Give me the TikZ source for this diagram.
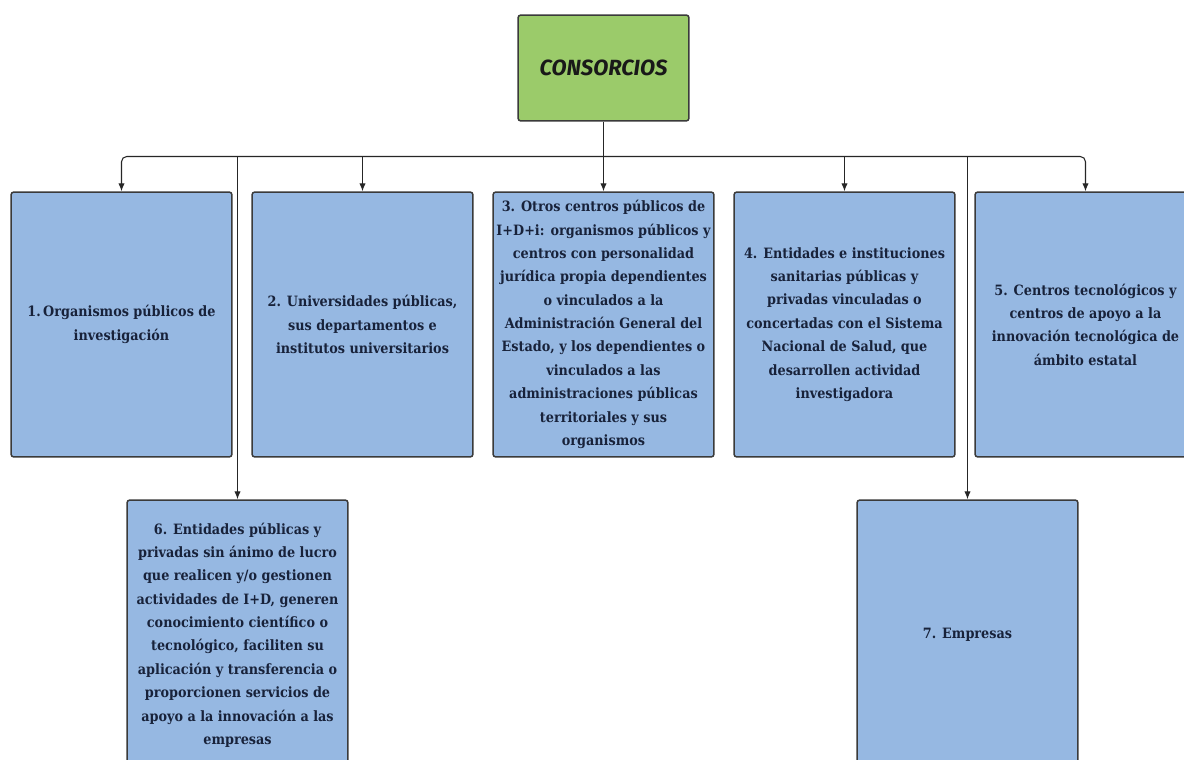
\documentclass[tikz,border=0pt]{standalone}
\usepackage{fontspec}
\setmainfont{DejaVu Serif Condensed}
\newfontfamily\titlefont{Fira Sans}
\usepackage{xcolor}
\usetikzlibrary{arrows.meta}
\definecolor{boxgreen}{RGB}{155,203,106}
\definecolor{boxblue}{RGB}{150,184,226}
\definecolor{boxline}{RGB}{58,58,58}
\definecolor{boxtext}{RGB}{24,34,58}
\tikzset{>={Latex[length=4.5pt,width=3.6pt]},
    catbox/.style={draw=boxline, fill=boxblue, line width=0.85pt, rounded corners=1.6pt,
      minimum width=4.42cm, minimum height=5.3cm, inner sep=1pt, align=center, text=boxtext,
      font=\fontsize{8.1pt}{13.3pt}\selectfont\bfseries},
    tallbox/.style={catbox, minimum height=5.4cm},
    topbox/.style={draw=boxline, fill=boxgreen, line width=0.85pt, rounded corners=1.6pt,
      minimum width=3.42cm, minimum height=2.12cm, text=black!90,
      font=\titlefont\fontsize{12.5pt}{14pt}\selectfont\bfseries\itshape},
    conn/.style={->, line width=0.6pt, black!85}}

\begin{document}
\begin{tikzpicture}[x=0.02cm, y=-0.02cm]
  \clip (0,0) rectangle (1184,760);
  \fill[white] (0,0) rectangle (1184,760);
  % root
  \node[topbox] (cons) at (603.5,68) {CONSORCIOS};
  % first row
  \node[catbox] (org) at (121.5,324.5) {1.\,Organismos públicos de\\investigación};
  \node[catbox] (univ) at (362.5,324.5) {2. Universidades públicas,\\sus departamentos e\\institutos universitarios};
  \node[catbox] (otros) at (603.5,324.5) {3. Otros centros públicos de\\I+D+i: organismos públicos y\\centros con personalidad\\jurídica propia dependientes\\o vinculados a la\\Administración General del\\Estado, y los dependientes o\\vinculados a las\\administraciones públicas\\territoriales y sus\\organismos};
  \node[catbox] (sanit) at (844.5,324.5) {4. Entidades e instituciones\\sanitarias públicas y\\privadas vinculadas o\\concertadas con el Sistema\\Nacional de Salud, que\\desarrollen actividad\\investigadora};
  \node[catbox] (tecno) at (1085.5,324.5) {5. Centros tecnológicos y\\centros de apoyo a la\\innovación tecnológica de\\ámbito estatal};
  % second row
  \node[tallbox] (entid) at (237.5,635) {6. Entidades públicas y\\privadas sin ánimo de lucro\\que realicen y/o gestionen\\actividades de I+D, generen\\conocimiento científico o\\tecnológico, faciliten su\\aplicación y transferencia o\\proporcionen servicios de\\apoyo a la innovación a las\\empresas};
  \node[tallbox] (empr) at (967.5,635) {7. Empresas};
  % connectors
  \coordinate (bus) at (cons.south |- 0,156.5);
  \draw[conn] (cons.south) -- (otros.north);
  \draw[conn, rounded corners=3pt] (bus) -| (org.north);
  \draw[conn, rounded corners=3pt] (bus) -| (tecno.north);
  \draw[conn] (univ.north |- bus) -- (univ.north);
  \draw[conn] (sanit.north |- bus) -- (sanit.north);
  \draw[conn] (entid.north |- bus) -- (entid.north);
  \draw[conn] (empr.north |- bus) -- (empr.north);
\end{tikzpicture}
\end{document}
